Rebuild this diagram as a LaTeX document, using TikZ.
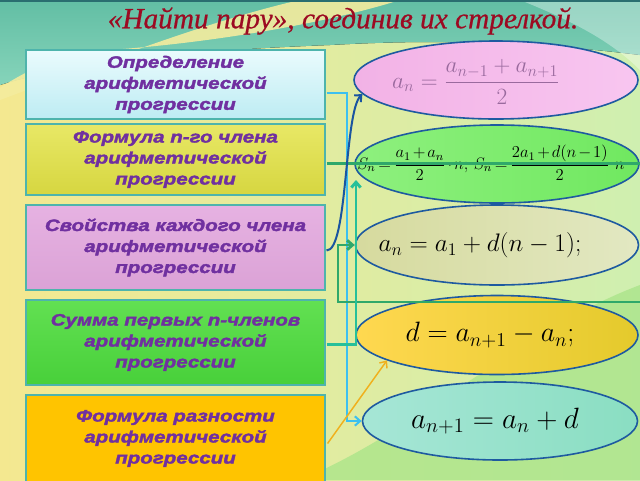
\RequirePackage{fix-cm}
\documentclass[tikz,border=0pt]{standalone}
\usepackage{fontspec}
\newfontfamily\titlefont{Liberation Serif Italic}[FakeBold=0.6]
\newfontfamily\boxfont{Liberation Sans Bold Italic}[FakeBold=2.2, FakeStretch=1.24]
\usetikzlibrary{arrows.meta,calc,shapes.geometric}
\definecolor{bgL}{HTML}{F4E890}
\definecolor{bgM}{HTML}{FBF7DD}
\definecolor{bgR}{HTML}{CFEFB0}
\definecolor{bggreen}{HTML}{A8E488}
\definecolor{bgteal}{HTML}{62BEA4}
\definecolor{bgteal2}{HTML}{86D4BA}
\definecolor{bgyel}{HTML}{F4EC9E}
\definecolor{topline}{HTML}{2A6E70}
\definecolor{titlered}{HTML}{9C0A22}
\definecolor{boxtext}{HTML}{7030A0}
\definecolor{boxborder}{HTML}{4EB4AC}
\definecolor{elborder}{HTML}{1E5AA0}
\definecolor{mathpurple}{HTML}{9A6A9E}
\definecolor{cyanline}{HTML}{3CC0F0}
\definecolor{blueline}{HTML}{1A55A0}
\definecolor{greenline}{HTML}{2FA86A}
\definecolor{tealline}{HTML}{26C09A}
\definecolor{orangeline}{HTML}{F0B01C}
\definecolor{bA1}{HTML}{EAFBFD}\definecolor{bA2}{HTML}{BDECF3}
\definecolor{bB1}{HTML}{E8E866}\definecolor{bB2}{HTML}{D6D640}
\definecolor{bC1}{HTML}{E6B2E2}\definecolor{bC2}{HTML}{DBA2D6}
\definecolor{bD1}{HTML}{62E052}\definecolor{bD2}{HTML}{48D03A}
\definecolor{bE1}{HTML}{FFC400}
\definecolor{eA1}{HTML}{F2B2E6}\definecolor{eA2}{HTML}{F8C6F0}
\definecolor{eB1}{HTML}{8EF07E}\definecolor{eB2}{HTML}{70E860}
\definecolor{eC1}{HTML}{D6DA9E}\definecolor{eC2}{HTML}{E2E8C2}
\definecolor{eD1}{HTML}{FFD850}\definecolor{eD2}{HTML}{E4CA2C}
\definecolor{eE1}{HTML}{A6E6D6}\definecolor{eE2}{HTML}{CCF2EA}\definecolor{eE3}{HTML}{8ADEC2}
\tikzset{
  topic/.style={draw=boxborder, line width=0.8pt, minimum width=224.25pt,
    inner sep=0pt, align=center, text=boxtext,
    font=\boxfont\fontsize{12.4}{15.75}\selectfont},
  formula/.style={draw=elborder, line width=1.2pt, ellipse, inner sep=0pt},
  mathtext/.style={inner sep=0pt},
  conn/.style={-{Straight Barb[length=4pt,width=7pt]}},
}
\begin{document}
\begin{tikzpicture}[x=0.75pt,y=-0.75pt]
\useasboundingbox (0,0) rectangle (640,480);
\clip (0,0) rectangle (640,480);
% background
\fill[left color=bgL, middle color=bgM, right color=bgR] (0,0) rectangle (640,480);
\fill[bggreen, opacity=0.75] (640,480) -- (300,480) .. controls (420,430) and (520,330) .. (640,285) -- cycle;
\fill[top color=bgteal, bottom color=bgteal2] (0,0) -- (640,0) -- (640,55) .. controls (520,40) and (420,40) .. (330,45) .. controls (200,50) and (80,60) .. (0,85) -- cycle;
\fill[bgyel, opacity=0.9] (0,100) .. controls (120,55) and (220,18) .. (300,0) -- (400,0) .. controls (330,22) and (220,42) .. (110,50) .. controls (60,55) and (30,68) .. (0,88) -- cycle;
\fill[white, opacity=0.35] (520,0) .. controls (570,20) and (610,40) .. (640,70) -- (640,0) -- cycle;
\fill[topline] (0,0) rectangle (640,2);
% title
\node[inner sep=0pt, text=titlered, font=\titlefont\fontsize{22}{26}\selectfont] (title) at (343,21) {«Найти пару», соединив их стрелкой.};
% topic boxes
\node[topic, minimum height=51.75pt, top color=bA1, bottom color=bA2] (b1) at (175.5,84.5) {Определение\\арифметической\\прогрессии};
\node[topic, minimum height=53.25pt, top color=bB1, bottom color=bB2] (b2) at (175.5,159.5) {Формула n-го члена\\арифметической\\прогрессии};
\node[topic, minimum height=63.75pt, top color=bC1, bottom color=bC2] (b3) at (175.5,247.5) {Свойства каждого члена\\арифметической\\прогрессии};
\node[topic, minimum height=63.75pt, top color=bD1, bottom color=bD2] (b4) at (175.5,342.5) {Сумма первых n-членов\\арифметической\\прогрессии};
\node[topic, minimum height=65.25pt, fill=bE1] (b5) at (175.5,438.5) {Формула разности\\арифметической\\прогрессии};
% formula ellipses
\node[formula, minimum width=213pt, minimum height=58.5pt, left color=eA1, right color=eA2] (e1) at (496,80) {};
\node[formula, minimum width=213pt, minimum height=58.5pt, left color=eB1, right color=eB2] (e2) at (497,164) {};
\node[formula, minimum width=212.25pt, minimum height=60pt, left color=eC1, right color=eC2] (e3) at (497,245) {};
\node[formula, minimum width=211.5pt, minimum height=59.25pt, left color=eD1, right color=eD2] (e4) at (497,335) {};
\node[formula, minimum width=206.25pt, minimum height=58.5pt, left color=eE1, middle color=eE2, right color=eE3] (e5) at (500,421) {};
% formulas
\node[mathtext, text=mathpurple, font=\fontsize{17.5}{20}\selectfont] (f1) at (476,82) {$\displaystyle a_n=\frac{a_{n-1}+a_{n+1}}{2}$};
\node[mathtext, font=\fontsize{12.5}{14}\selectfont] (f2) at (491,163) {$\thickmuskip=3mu\medmuskip=2mu\displaystyle S_n=\frac{a_1+a_n}{2}\cdot n;\; S_n=\frac{2a_1+d(n-1)}{2}\;\; n$};
\node[mathtext, font=\fontsize{19}{22}\selectfont] (f3) at (480,245) {$a_n=a_1+d(n-1);$};
\node[mathtext, font=\fontsize{21}{24}\selectfont] (f4) at (490,335) {$d=a_{n+1}-a_n;$};
\node[mathtext, font=\fontsize{22}{25}\selectfont] (f5) at (495,421) {$a_{n+1}=a_n+d$};
% helper coordinates
\coordinate (gr) at (668,302);
\coordinate (gl) at (338,302);
\coordinate (e2tip) at (356,180);
% connectors
\draw[conn, cyanline, line width=1.5pt] ($(b1.east)+(1,8)$) -- ++(20,0) |- (e5.west);
\draw[conn, greenline, line width=2.2pt] ($(b2.east)+(1,4)$) -| (gr) -- (gl) |- (e3.west);
\draw[conn, tealline, line width=2.2pt] ($(b4.east)+(1,2)$) -| (e2tip);
\draw[conn, blueline, line width=1.5pt] ($(b3.east)+(1,3)$) .. controls (348,251) and (344,112) .. (e1.186);
\draw[conn, orangeline, line width=1.1pt] ($(b5.east)+(2,5)$) -- (e4.193);
\end{tikzpicture}
\end{document}
